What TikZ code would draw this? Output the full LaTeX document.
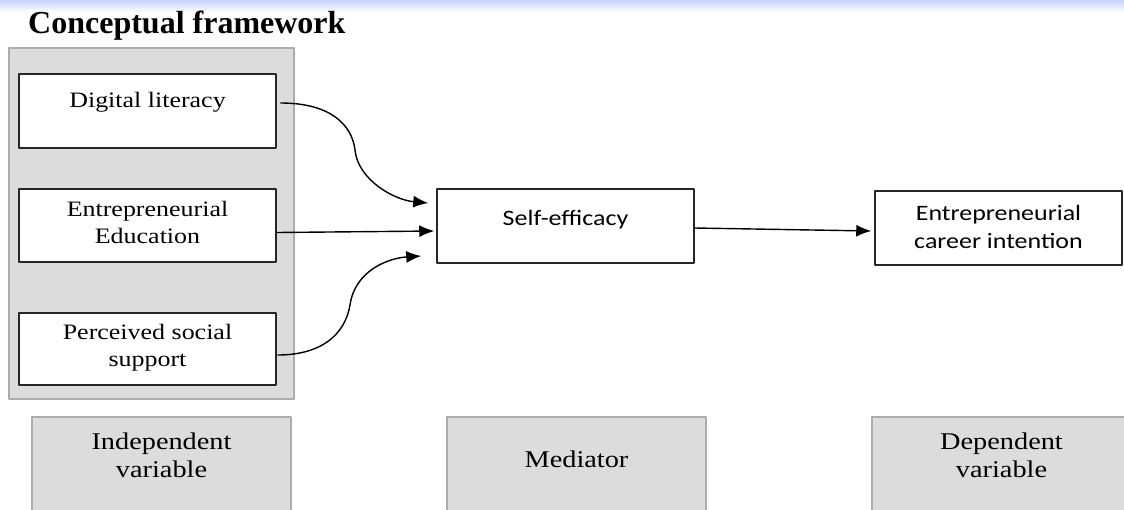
\documentclass[tikz,border=0pt]{standalone}
\usepackage{fontspec}
\setmainfont{Liberation Serif}
\newfontfamily\boxserif[FakeStretch=1.18]{Liberation Serif}
\newfontfamily\boxsans[FakeStretch=1.18]{Carlito}
\usetikzlibrary{arrows.meta,positioning}
\definecolor{panelgray}{RGB}{220,220,220}
\definecolor{edgegray}{RGB}{172,172,172}
\definecolor{bandblue}{RGB}{196,210,250}
\tikzset{
  varbox/.style={draw=black!85,line width=1.5pt,fill=white,minimum width=257pt,minimum height=74pt,inner sep=0pt},
  rolebox/.style={draw=edgegray,line width=1.2pt,fill=panelgray,minimum width=259pt,minimum height=100pt,inner sep=0pt},
  seriftext/.style={font=\boxserif\fontsize{22}{27}\selectfont,align=center,inner sep=0pt},
  sanstext/.style={font=\boxsans\fontsize{22}{28}\selectfont,align=center,inner sep=0pt},
  roletext/.style={font=\boxserif\fontsize{24}{28}\selectfont,align=center,inner sep=0pt},
  link/.style={line width=1.4pt,-{Latex[length=15pt,width=12pt]}}
}
\begin{document}
\begin{tikzpicture}[line cap=round,line join=round,x=1pt,y=-1pt]
                \clip(0,0) rectangle (1124,509);
                \shade[top color=bandblue,bottom color=white] (0,0) rectangle (1124,12);
                \node[anchor=base west,inner sep=0pt,font=\bfseries\fontsize{32}{36}\selectfont] (title) at (28,33) {Conceptual framework};
                % panel of independent variables
                \node[draw=edgegray,fill=panelgray,line width=1.2pt,minimum width=285pt,minimum height=351pt] (panel) at (151.5,223.5) {};
                \node[varbox] (dl) at (147.5,111) {};
                \node[varbox,minimum height=73pt] (ee) at (147.5,225.5) {};
                \node[varbox,minimum height=72pt] (pss) at (147.5,349) {};
                \node[seriftext,below=19pt of dl.north] (dltext) {Digital literacy};
                \node[seriftext,below=13pt of ee.north] (eetext) {Entrepreneurial\\Education};
                \node[seriftext,below=12pt of pss.north] (psstext) {Perceived social\\support};
                % mediator and outcome
                \node[varbox] (se) at (565.5,226) {};
                \node[varbox,minimum width=247pt] (eci) at (998.5,228) {};
                \node[sanstext,below=22pt of se.north] (setext) {Self-efficacy};
                \node[sanstext,below=15pt of eci.north] (ecitext) {Entrepreneurial\\career intention};
                % paths
                \coordinate (dlbend) at (355,150);
                \coordinate (pssbend) at (350,305);
                \draw[link] ([xshift=4pt,yshift=8pt]dl.east) .. controls +(50,0) and +(-3,-25) .. (dlbend) .. controls +(3,30) and +(-34,-3) .. ([xshift=-8pt,yshift=23pt]se.west);
                \draw[link] ([yshift=-7pt]ee.east) -- ([xshift=-2pt,yshift=-5pt]se.west);
                \draw[link] ([xshift=1pt,yshift=-6pt]pss.east) .. controls +(43,0) and +(-5,30) .. (pssbend) .. controls +(5,-35) and +(-32,2) .. ([xshift=-15pt,yshift=-30pt]se.west);
                \draw[link] ([yshift=-2pt]se.east) -- ([xshift=-3pt,yshift=-3pt]eci.west);
                % variable roles
                \node[rolebox] (ivar) at (161.5,467) {};
                \node[rolebox] (med) at (576.5,467) {};
                \node[rolebox] (dvar) at (1001.5,467) {};
                \node[roletext,below=16pt of ivar.north] (ivartext) {Independent\\variable};
                \node[roletext,below=34pt of med.north] (medtext) {Mediator};
                \node[roletext,below=16pt of dvar.north] (dvartext) {Dependent\\variable};
\end{tikzpicture}
\end{document}
